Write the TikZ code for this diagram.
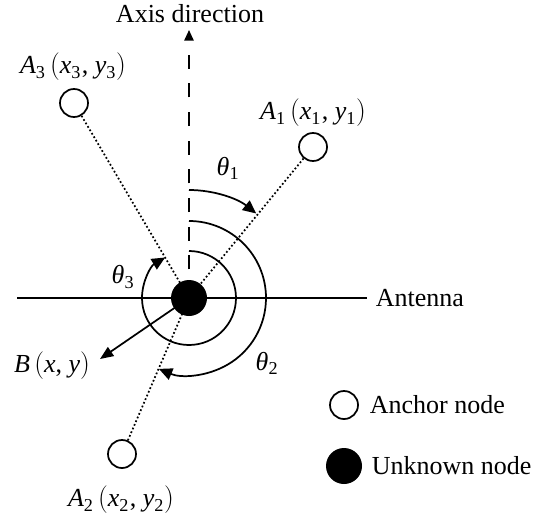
\documentclass[tikz,border=0pt]{standalone}
\usepackage{fontspec}
\setmainfont{Liberation Serif}
\usetikzlibrary{arrows.meta}
\newcommand\coordlab[3]{\textit{#1}\textsubscript{#2}\,$\bigl($\textit{x}\textsubscript{#2}\kern.5pt, \textit{y}\textsubscript{#2}$\bigr)$}
\newcommand\thlab[1]{\textit{θ}\textsubscript{#1}}
\begin{document}
\begin{tikzpicture}[x=0.75pt,y=0.75pt,
  line width=1.3pt,
  anchornode/.style={circle,draw,line width=1.3pt,minimum size=21pt,inner sep=0pt},
  unknownnode/.style={circle,fill=black,minimum size=27pt,inner sep=0pt},
  lbl/.style={font=\fontsize{19.5}{22}\selectfont,inner sep=0pt},
  dotline/.style={line width=1.3pt,dash pattern=on 1.3pt off 1.7pt},
  arctip/.style={-{Triangle[length=10pt,width=9pt]}},
  axistip/.style={-{Triangle[length=8pt,width=7pt]}}]
\useasboundingbox (0,0) rectangle (534,-517);
% coordinates
\coordinate (C0) at (189,-298);
\coordinate (axtop) at (189,-30);
\coordinate (antL) at (17,-298);
\coordinate (antR) at (367,-298);
\coordinate (Btip) at (100,-359);
% antenna line
\draw (antL) -- (antR);
% anchors
\node[anchornode] (A3) at (74,-103) {};
\node[anchornode] (A1) at (313,-147) {};
\node[anchornode] (A2) at (122,-454) {};
% dotted lines
\draw[dotline] (A3) -- (C0);
\draw[dotline] (A1) -- (C0);
\draw[dotline] (A2) -- (C0);
% axis
\draw[axistip,dash pattern=on 10.5pt off 11pt] (C0) -- (axtop);
% arcs
\draw[arctip] ([shift={(90:108)}]C0) arc[start angle=90,end angle=51.5,radius=108];
\draw[arctip] ([shift={(90:77)}]C0) arc[start angle=90,end angle=-113,radius=77];
\draw[arctip] ([shift={(90:47)}]C0) arc[start angle=90,end angle=-239.5,radius=47];
% unknown node
\node[unknownnode] (U) at (C0) {};
\draw[-{Triangle[length=10pt,width=8pt]}] (U.center) -- (Btip);
% labels
\node[lbl] (axl) at (190,-14) {Axis direction};
\node[lbl,anchor=west] (antl) at (375,-298) {Antenna};
\node[lbl] (A3l) at (73,-67) {\coordlab{A}{3}{}};
\node[lbl] (A1l) at (313,-113) {\coordlab{A}{1}{}};
\node[lbl] (A2l) at (121,-500) {\coordlab{A}{2}{}};
\node[lbl] (Bl) at (52,-366) {\textit{B}\,$\bigl($\textit{x}, \textit{y}$\bigr)$};
\node[lbl] (t1) at (228,-168) {\thlab{1}};
\node[lbl] (t2) at (267,-363) {\thlab{2}};
\node[lbl] (t3) at (123,-277) {\thlab{3}};
% legend
\node[anchornode] (LA) at (344,-405) {};
\node[lbl,anchor=west] (LAt) at (369,-405) {Anchor node};
\node[unknownnode] (LU) at (344,-466) {};
\node[lbl,anchor=west] (LUt) at (371,-466) {Unknown node};
\end{tikzpicture}
\end{document}
